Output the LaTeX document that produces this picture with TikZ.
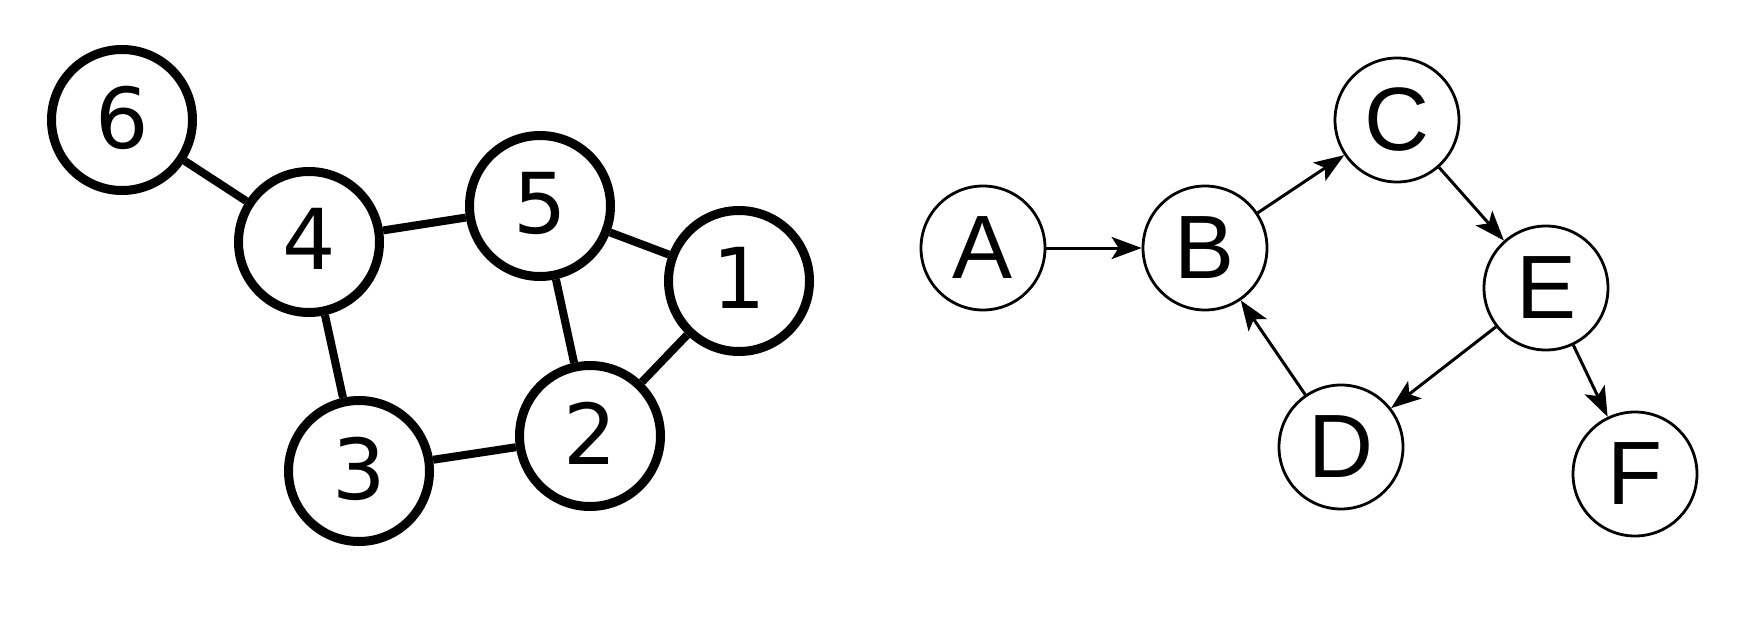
\documentclass[tikz,border=0pt]{standalone}
\usepackage{fontspec}
\usetikzlibrary{arrows.meta}
\newfontfamily\digitfont{DejaVu Sans}
\newfontfamily\letterfont{Liberation Sans}

\begin{document}
\begin{tikzpicture}[x=0.5pt,y=0.5pt,yscale=-1,xscale=1,
  vtx/.style={circle,draw,line width=4.5pt,minimum size=70.5pt,inner sep=0pt,
    font=\digitfont\fontsize{42}{50}\selectfont},
  dvtx/.style={circle,draw,line width=1.4pt,minimum size=62pt,inner sep=0pt,
    font=\letterfont\fontsize{45}{52}\selectfont},
  edge/.style={line width=4pt},
  arc/.style={line width=1.5pt,-{Stealth[length=15pt,width=11pt,inset=3.5pt]}}]
\useasboundingbox (0,0) rectangle (1746,621);

% Undirected graph
\draw (122,120) node [vtx] (n6) {\raisebox{3pt}{6}};
\draw (309,242) node [vtx] (n4) {\raisebox{3pt}{4}};
\draw (540,206) node [vtx] (n5) {\raisebox{3pt}{5}};
\draw (739,281) node [vtx] (n1) {\raisebox{3pt}{1}};
\draw (590,436) node [vtx] (n2) {\raisebox{3pt}{2}};
\draw (359,471) node [vtx] (n3) {\raisebox{3pt}{3}};

\draw [edge] (n6) -- (n4);
\draw [edge] (n4) -- (n5);
\draw [edge] (n5) -- (n1);
\draw [edge] (n4) -- (n3);
\draw [edge] (n5) -- (n2);
\draw [edge] (n1) -- (n2);
\draw [edge] (n3) -- (n2);

% Directed graph
\draw (983,248) node [dvtx] (A) {A};
\draw (1205,248) node [dvtx] (B) {B};
\draw (1397,120) node [dvtx] (C) {C};
\draw (1546,288) node [dvtx] (E) {E};
\draw (1341,447) node [dvtx] (D) {D};
\draw (1635,474) node [dvtx] (F) {F};

\draw [arc] (A) -- (B);
\draw [arc] (B) -- (C);
\draw [arc] (C) -- (E);
\draw [arc] (E) -- (D);
\draw [arc] (D) -- (B);
\draw [arc] (E) -- (F);

\end{tikzpicture}
\end{document}
